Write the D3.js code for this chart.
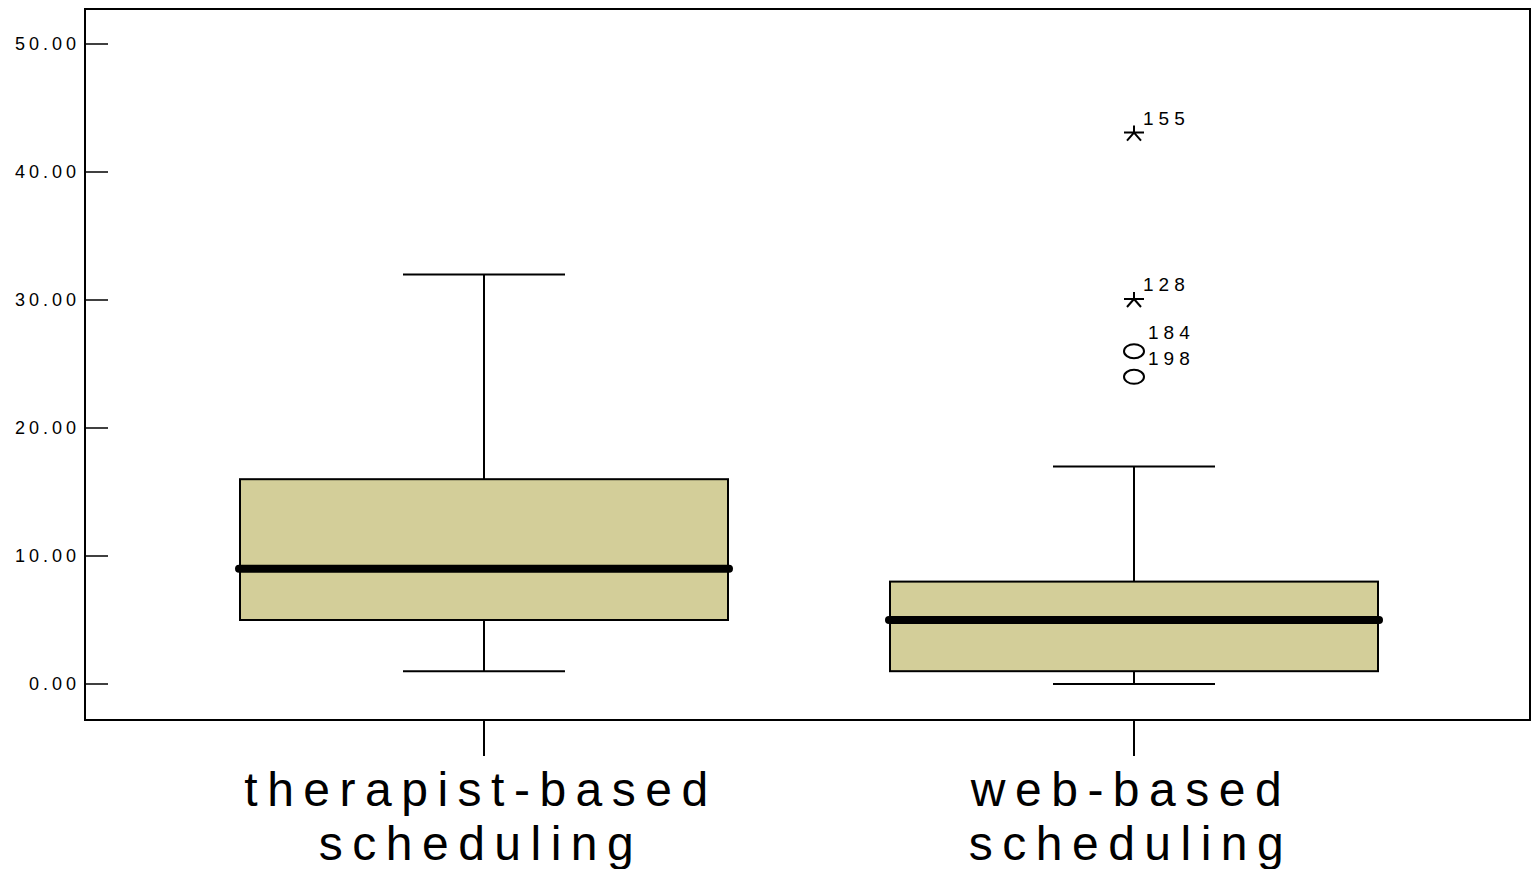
<!DOCTYPE html>
<html>
<head>
<meta charset="utf-8">
<script src="https://cdn.jsdelivr.net/npm/d3@7/dist/d3.min.js"></script>
<style>
  body { margin: 0; background: #fff; }
  svg { display: block; font-family: "Liberation Sans", Arial, sans-serif; }
</style>
</head>
<body>
<svg class="boxplot" width="1537" height="869"></svg>
<script>
// chart values
const groups = ["therapist-based scheduling", "web-based scheduling"];
const whiskerLow = [1, 0];
const quartile1 = [5, 1];
const medians = [9, 5];
const quartile3 = [16, 8];
const whiskerHigh = [32, 17];
const outlierGroup = ["web-based scheduling", "web-based scheduling", "web-based scheduling", "web-based scheduling"];
const outlierValues = [43, 30, 26, 24];
const outlierIds = ["155", "128", "184", "198"];
const outlierExtreme = [true, true, false, false];
const yTicks = [0, 10, 20, 30, 40, 50];

(function boxPlotIIFE() {
    let svg = d3.select("svg.boxplot");
    let frame = {left: 85, right: 1530, top: 9, bottom: 720};

    let y = d3.scaleLinear().domain([0, 50]).range([684, 44]);
    let x = d3.scalePoint().domain(groups).range([484, 1134]);
    const boxHalf = 244, capHalf = 81;

    let data = groups.map(function(g, i) {
        return {g: g, lo: whiskerLow[i], q1: quartile1[i], med: medians[i], q3: quartile3[i], hi: whiskerHigh[i]};
    });

    // frame
    svg.append("rect")
        .attr("x", frame.left).attr("y", frame.top)
        .attr("width", frame.right - frame.left).attr("height", frame.bottom - frame.top)
        .attr("fill", "none").attr("stroke", "#000").attr("stroke-width", 2);

    // y axis ticks + labels
    let yAxis = svg.append("g").attr("class", "y-axis");
    yAxis.selectAll("line").data(yTicks).enter().append("line")
        .attr("x1", frame.left).attr("x2", frame.left + 23)
        .attr("y1", function(d) { return y(d); }).attr("y2", function(d) { return y(d); })
        .attr("stroke", "#000").attr("stroke-width", 1.5);
    yAxis.selectAll("text").data(yTicks).enter().append("text")
        .attr("x", 80).attr("y", function(d) { return y(d); })
        .attr("dy", "0.35em")
        .attr("text-anchor", "end")
        .style("font-size", "18px")
        .style("letter-spacing", "4px")
        .text(function(d) { return d3.format(".2f")(d); });

    // x axis ticks + category labels
    let xAxis = svg.append("g").attr("class", "x-axis");
    xAxis.selectAll("line").data(groups).enter().append("line")
        .attr("x1", function(d) { return x(d); }).attr("x2", function(d) { return x(d); })
        .attr("y1", frame.bottom).attr("y2", frame.bottom + 36)
        .attr("stroke", "#000").attr("stroke-width", 2);
    xAxis.selectAll("text").data(groups).enter().append("text")
        .attr("y", 806)
        .attr("text-anchor", "middle")
        .style("font-size", "48px")
        .style("letter-spacing", "9.5px")
        .each(function(d) {
            let parts = d.split(" ");
            let t = d3.select(this);
            t.append("tspan").attr("x", x(d) - 3).text(parts[0]);
            t.append("tspan").attr("x", x(d) - 3).attr("dy", 54).text(parts[1]);
        });

    let boxes = svg.selectAll(".box").data(data).enter().append("g").attr("class", "box");

    // whiskers
    boxes.append("line")
        .attr("x1", function(d) { return x(d.g); }).attr("x2", function(d) { return x(d.g); })
        .attr("y1", function(d) { return y(d.hi); }).attr("y2", function(d) { return y(d.q3); })
        .attr("stroke", "#000").attr("stroke-width", 2);
    boxes.append("line")
        .attr("x1", function(d) { return x(d.g); }).attr("x2", function(d) { return x(d.g); })
        .attr("y1", function(d) { return y(d.q1); }).attr("y2", function(d) { return y(d.lo); })
        .attr("stroke", "#000").attr("stroke-width", 2);
    ["hi", "lo"].forEach(function(k) {
        boxes.append("line")
            .attr("x1", function(d) { return x(d.g) - capHalf; }).attr("x2", function(d) { return x(d.g) + capHalf; })
            .attr("y1", function(d) { return y(d[k]); }).attr("y2", function(d) { return y(d[k]); })
            .attr("stroke", "#000").attr("stroke-width", 2);
    });

    // boxes
    boxes.append("rect")
        .attr("x", function(d) { return x(d.g) - boxHalf; })
        .attr("y", function(d) { return y(d.q3); })
        .attr("width", boxHalf * 2)
        .attr("height", function(d) { return y(d.q1) - y(d.q3); })
        .attr("fill", "#d3ce99").attr("stroke", "#000").attr("stroke-width", 2);

    // medians
    boxes.append("line")
        .attr("x1", function(d) { return x(d.g) - boxHalf - 1; }).attr("x2", function(d) { return x(d.g) + boxHalf + 1; })
        .attr("y1", function(d) { return y(d.med); }).attr("y2", function(d) { return y(d.med); })
        .attr("stroke", "#000").attr("stroke-width", 8).attr("stroke-linecap", "round");

    // outliers
    let outs = outlierValues.map(function(v, i) {
        return {g: outlierGroup[i], v: v, id: outlierIds[i], ext: outlierExtreme[i]};
    });
    let og = svg.selectAll(".outlier").data(outs).enter().append("g")
        .attr("class", "outlier")
        .attr("transform", function(d) { return "translate(" + x(d.g) + "," + y(d.v) + ")"; });
    og.filter(function(d) { return d.ext; }).append("path")
        .attr("d", "M-10,-1L10,-1M0,-1L-7,7M0,-1L7,7M0,-1L0,-8")
        .attr("fill", "none").attr("stroke", "#000").attr("stroke-width", 2);
    og.filter(function(d) { return !d.ext; }).append("ellipse")
        .attr("rx", 10).attr("ry", 7)
        .attr("fill", "none").attr("stroke", "#000").attr("stroke-width", 2);
    og.append("text")
        .attr("x", function(d) { return d.ext ? 9 : 14; })
        .attr("y", function(d) { return d.ext ? -9 : -12; })
        .style("font-size", "19px")
        .style("letter-spacing", "5px")
        .text(function(d) { return d.id; });
})();
</script>
</body>
</html>
